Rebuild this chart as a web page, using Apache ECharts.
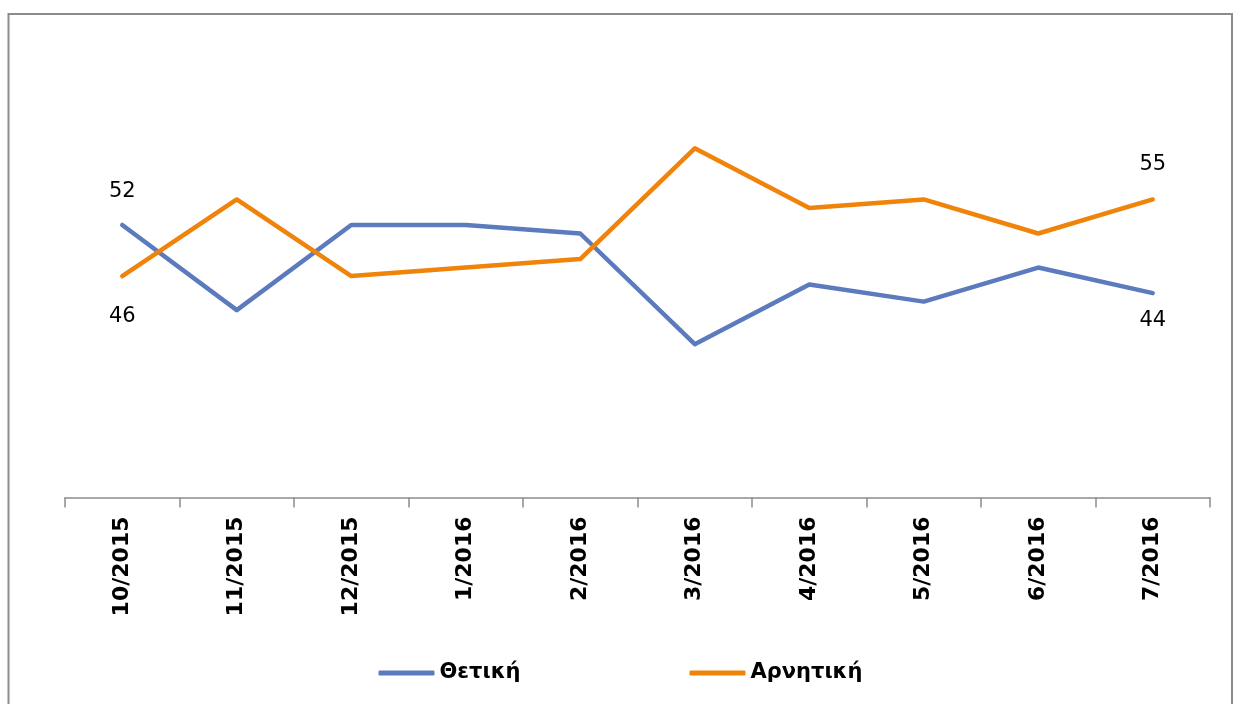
<!DOCTYPE html>
<html>
<head>
<meta charset="utf-8">
<script src="https://cdn.jsdelivr.net/npm/echarts@6/dist/echarts.min.js"></script>
<style>
html,body{margin:0;padding:0;background:#fff;}
#chart{width:1241px;height:704px;}
</style>
</head>
<body>
<div id="chart"></div>
<script>
const categories = ['10/2015','11/2015','12/2015','1/2016','2/2016','3/2016','4/2016','5/2016','6/2016','7/2016'];
const seriesNames = ['Θετική','Αρνητική'];
const positiveValues = [52, 42, 52, 52, 51, 38, 45, 43, 47, 44];
const negativeValues = [46, 55, 46, 47, 48, 61, 54, 55, 51, 55];

function withEndLabels(values, firstPos, firstDist, lastPos, lastDist) {
  return values.map(function (v, i) {
    if (i === 0) return { value: v, label: { show: true, position: firstPos, distance: firstDist } };
    if (i === values.length - 1) return { value: v, label: { show: true, position: lastPos, distance: lastDist } };
    return v;
  });
}

const labelText = { color: '#000', fontSize: 21, fontFamily: 'DejaVu Sans', fontWeight: 'normal' };

const chart = echarts.init(document.getElementById('chart'), null, { renderer: 'canvas' });
chart.setOption({
  animation: false,
  backgroundColor: '#fff',
  graphic: [{
    type: 'rect',
    shape: { x: 8.5, y: 14, width: 1223.5, height: 700 },
    style: { fill: 'none', stroke: '#8c8c8c', lineWidth: 2 },
    silent: true
  }],
  grid: { left: 65, right: 31, top: 71.7, bottom: 206.5, containLabel: false },
  legend: {
    left: 'center',
    top: 656,
    itemWidth: 56,
    itemHeight: 5,
    itemGap: 169,
    icon: 'roundRect',
    textStyle: { fontFamily: 'DejaVu Sans', fontWeight: 'bold', fontSize: 21, color: '#000', lineHeight: 24 },
    data: seriesNames
  },
  xAxis: {
    type: 'category',
    data: categories,
    boundaryGap: true,
    axisLine: { lineStyle: { color: '#8c8c8c', width: 1.5 } },
    axisTick: { show: true, length: 10, lineStyle: { color: '#8c8c8c', width: 1.5 } },
    axisLabel: {
      rotate: 90, margin: 19, interval: 0,
      fontFamily: 'DejaVu Sans', fontWeight: 'bold', fontSize: 22, color: '#000'
    },
    splitLine: { show: false }
  },
  yAxis: {
    type: 'value', min: 20, max: 70,
    show: false,
    splitLine: { show: false }
  },
  series: [
    {
      name: seriesNames[0],
      type: 'line',
      data: withEndLabels(positiveValues, 'top', 23, 'bottom', 17),
      symbol: 'circle', symbolSize: 0,
      color: '#5B7BBE',
      lineStyle: { color: '#5B7BBE', width: 4.5, cap: 'round', join: 'round' },
      label: Object.assign({ show: false }, labelText)
    },
    {
      name: seriesNames[1],
      type: 'line',
      data: withEndLabels(negativeValues, 'bottom', 30, 'top', 24),
      symbol: 'circle', symbolSize: 0,
      color: '#F0830A',
      lineStyle: { color: '#F0830A', width: 4.5, cap: 'round', join: 'round' },
      label: Object.assign({ show: false }, labelText)
    }
  ]
});
</script>
</body>
</html>
